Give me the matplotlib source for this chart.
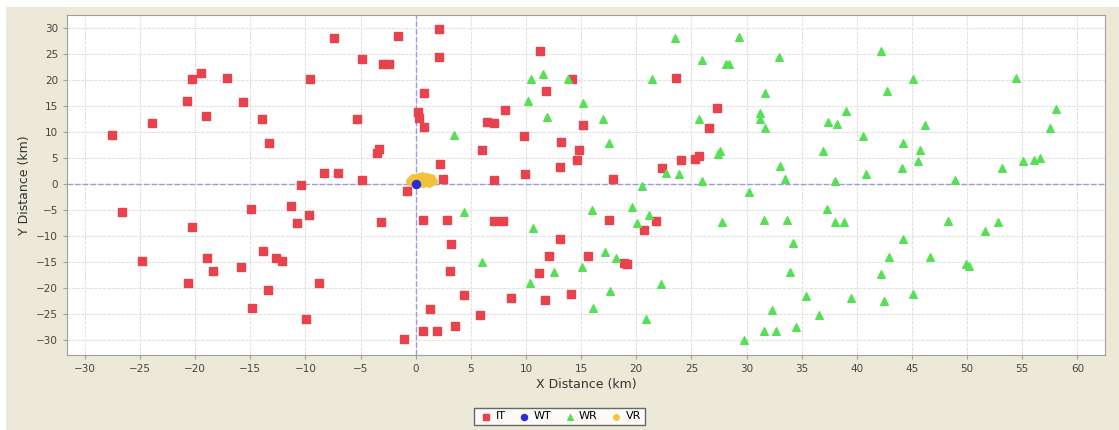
import numpy as np
import matplotlib
matplotlib.use('Agg')
import matplotlib.pyplot as plt
from matplotlib.patches import Rectangle

# IT (red squares)
it_x = [-27.5, -23.9, -20.7, -20.3, -19.5, -19.0, -17.1, -15.7, -13.9, -13.3,
        -9.6, -7.4, -4.9, -3.0, -2.4, -1.6, -5.3, -3.5, -3.3, -8.3,
        -7.0, -4.9, -10.4, -0.8, -26.6, -14.9, -11.3, -9.7, 0.2, 0.3,
        2.1, 2.1, 0.8, 0.8, 2.2, 2.5, 11.3, 14.2, 11.8, 8.1,
        6.5, 7.1, 15.2, 9.8, 13.2, 14.8, 6.0, 14.6, 13.1, 9.9,
        7.1, 17.9, 23.6, 27.3, 26.6, 22.3, 24.1, 25.3, 25.7,
        -20.3, -24.8, -18.9, -18.4, -20.6, -15.8, -13.8, -12.7, -12.1, -13.4,
        -14.8, -10.8, -3.1, -1.1, -8.8, -9.9, 0.7, 2.8, 7.1, 7.9,
        17.5, 20.7, 21.8, 13.1, 3.2, 12.1, 15.6, 18.9, 19.2, 3.1,
        11.2, 14.1, 4.4, 8.6, 11.7, 1.3, 5.8, 3.6, 0.7, 1.9]
it_y = [9.4, 11.7, 16.0, 20.2, 21.3, 13.1, 20.4, 15.8, 12.5, 7.9,
        20.2, 28.1, 24.0, 23.1, 23.1, 28.5, 12.5, 6.0, 6.7, 2.1,
        2.1, 0.8, -0.2, -1.3, -5.4, -4.8, -4.2, -6.0, 13.8, 12.7,
        29.8, 24.4, 17.5, 11.0, 3.8, 1.0, 25.6, 20.2, 17.9, 14.2,
        11.9, 11.7, 11.3, 9.2, 8.1, 6.5, 6.5, 4.6, 3.3, 1.9,
        0.8, 1.0, 20.4, 14.6, 10.8, 3.1, 4.6, 4.8, 5.4,
        -8.3, -14.8, -14.2, -16.7, -19.0, -16.0, -12.9, -14.2, -14.8, -20.4,
        -23.8, -7.5, -7.3, -29.8, -19.0, -26.0, -6.9, -6.9, -7.1, -7.1,
        -6.9, -8.8, -7.1, -10.6, -11.5, -13.8, -13.8, -15.2, -15.4, -16.7,
        -17.1, -21.2, -21.3, -21.9, -22.3, -24.0, -25.2, -27.3, -28.3, -28.3]

# WT (blue circle)
wt_x = [0.0]
wt_y = [0.0]

# WR (green triangles)
wr_x = [3.5, 10.5, 11.5, 13.8, 10.2, 15.2, 11.9, 17.0, 17.5, 23.5,
        29.3, 26.0, 28.1, 28.4, 21.4, 25.7, 27.6, 27.4, 22.7, 23.9,
        26.0, 20.5, 30.2, 33.5, 33.0, 32.9, 42.2, 45.1, 54.4, 42.7,
        31.7, 31.2, 31.2, 31.7, 39.0, 37.4, 38.2, 46.2, 40.6, 58.1,
        57.5, 44.2, 45.7, 36.9, 45.5, 44.1, 38.0, 40.8, 48.9, 53.2,
        55.1, 56.1, 56.6,
        4.4, 16.0, 19.6, 21.2, 20.1, 27.8, 31.6, 33.7, 34.2, 37.3,
        38.0, 38.8, 48.3, 52.8, 51.6, 44.2, 42.9, 46.6, 49.9, 50.2,
        33.9, 42.2, 35.4, 39.5, 45.1, 42.5, 32.3, 36.6, 34.5, 31.6,
        32.7, 29.8, 10.6, 17.2, 18.2, 6.0, 15.1, 12.5, 10.4, 22.2,
        17.6, 16.1, 20.9]
wr_y = [9.4, 20.2, 21.2, 20.2, 16.0, 15.6, 12.9, 12.5, 7.9, 28.1,
        28.3, 23.8, 23.1, 23.1, 20.2, 12.5, 6.3, 5.8, 2.1, 1.9,
        0.6, -0.4, -1.5, 1.0, 3.5, 24.4, 25.6, 20.2, 20.4, 17.9,
        17.5, 13.7, 12.5, 10.8, 14.0, 11.9, 11.5, 11.3, 9.2, 14.4,
        10.8, 7.9, 6.5, 6.3, 4.4, 3.1, 0.6, 1.9, 0.8, 3.1,
        4.4, 4.6, 5.0,
        -5.4, -5.0, -4.4, -6.0, -7.5, -7.3, -6.9, -6.9, -11.3, -4.8,
        -7.3, -7.3, -7.1, -7.3, -9.0, -10.6, -14.0, -14.0, -15.4, -15.8,
        -16.9, -17.3, -21.5, -21.9, -21.2, -22.5, -24.2, -25.2, -27.5, -28.3,
        -28.3, -30.0, -8.5, -13.1, -14.2, -15.0, -16.0, -16.9, -19.0, -19.2,
        -20.6, -23.8, -26.0]

# VR (orange circles, clustered around the origin)
vr_x = [-0.5, -0.2, 0.2, 0.6, 1.0, 1.4, 1.6, 1.2, 0.7, 0.2, -0.3]
vr_y = [0.6, 1.1, 1.4, 1.5, 1.4, 1.1, 0.6, 0.3, 0.2, 0.3, 0.4]

bg = '#ECE9D8'
fig = plt.figure(figsize=(11.19, 4.30), dpi=100, facecolor=bg)
fig.patches.append(Rectangle((0, 0.984), 1, 0.016, transform=fig.transFigure,
                             facecolor='white', edgecolor='none', zorder=-1))
fig.patches.append(Rectangle((0, 0), 0.005, 1, transform=fig.transFigure,
                             facecolor='white', edgecolor='none', zorder=-1))
ax = fig.add_axes([0.060, 0.174, 0.9275, 0.791])
ax.set_facecolor('white')

ax.set_xlim(-31.6, 62.5)
ax.set_ylim(-32.9, 32.5)
ax.set_xticks(np.arange(-30, 61, 5))
ax.set_yticks(np.arange(-30, 31, 5))
ax.grid(True, color='#e2e2e2', lw=0.8, linestyle=(0, (3, 1)))
ax.set_axisbelow(True)
ax.axhline(0, color='#9a9ae6', lw=1.0, linestyle=(0, (4, 1.5)), zorder=1)
ax.axvline(0, color='#9a9ae6', lw=1.0, linestyle=(0, (4, 1.5)), zorder=1)

ax.scatter(it_x, it_y, marker='s', s=32, color='#e8424c', label='IT', zorder=3)
ax.scatter(wr_x, wr_y, marker='^', s=30, color='#55e055', label='WR', zorder=3)
ax.scatter(vr_x, vr_y, marker='o', s=28, color='#f2c23a', label='VR', zorder=4)
ax.scatter(wt_x, wt_y, marker='o', s=34, color='#2a2ae0', label='WT', zorder=5)

for sp in ax.spines.values():
    sp.set_color('#a0a0a0')
ax.tick_params(axis='both', labelsize=7.5, colors='#a0a0a0', labelcolor='#444444',
               length=3, direction='out')
ax.set_xlabel('X Distance (km)', fontsize=9, color='#333333', labelpad=3)
ax.set_ylabel('Y Distance (km)', fontsize=9, color='#333333', labelpad=4)

h, l = ax.get_legend_handles_labels()
order = [l.index(k) for k in ['IT', 'WT', 'WR', 'VR']]
leg = fig.legend([h[i] for i in order], [l[i] for i in order], ncol=4,
                 loc='upper center', bbox_to_anchor=(0.5, 0.065),
                 fontsize=8, frameon=True, fancybox=False, handletextpad=0.1,
                 columnspacing=0.9, borderpad=0.35, markerscale=0.75,
                 handlelength=1.5)
leg.get_frame().set_edgecolor('#444444')
leg.get_frame().set_linewidth(1.0)

fig.savefig('out.png', dpi=100, facecolor=bg)
